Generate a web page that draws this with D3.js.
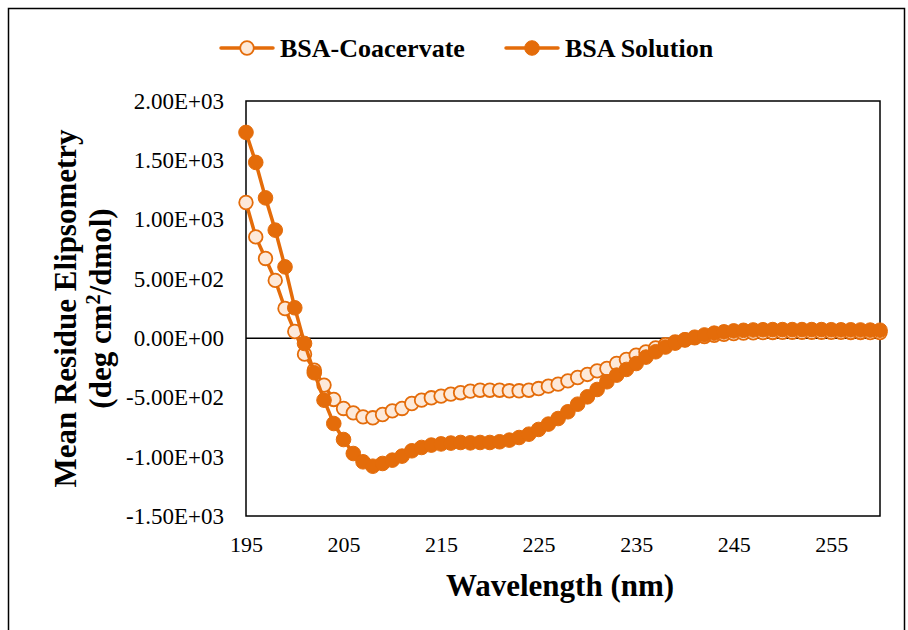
<!DOCTYPE html>
<html>
<head>
<meta charset="utf-8">
<script src="https://cdn.jsdelivr.net/npm/d3@7"></script>
<style>
  html, body { margin: 0; padding: 0; background: #fff; }
  svg { display: block; }
</style>
</head>
<body>
<svg id="chart" width="908" height="630"></svg>
<script>
// CD spectra of BSA: wavelength (nm) and mean residue ellipticity
const wavelengths = d3.range(195, 261); // 195 ... 260 nm, 1 nm steps

const coacervate = [
  1144, 854, 672, 487, 250, 56, -135, -270, -396, -517,
  -593, -630, -664, -672, -644, -613, -593, -551, -523, -503,
  -489, -472, -460, -447, -439, -439, -439, -444, -444, -439,
  -425, -405, -388, -360, -332, -306, -276, -256, -214, -180,
  -143, -116, -82, -55, -32, -14, 2, 14, 24, 32,
  38, 42, 45, 47, 48, 49, 50, 50, 50, 50,
  49, 49, 48, 48, 47, 47
];

const solution = [
  1735, 1482, 1183, 911, 601, 256, -45, -292, -523, -720,
  -855, -973, -1043, -1080, -1057, -1029, -995, -950, -922, -902,
  -892, -885, -880, -883, -880, -880, -874, -860, -838, -810,
  -770, -725, -678, -621, -557, -495, -433, -368, -312, -264,
  -214, -160, -115, -75, -42, -15, 8, 27, 42, 53,
  61, 66, 69, 71, 72, 72, 72, 72, 72, 72,
  71, 70, 70, 69, 68, 67
];

const seriesNames = ["BSA-Coacervate", "BSA Solution"];
const xTickValues = [195, 205, 215, 225, 235, 245, 255];
const yTickValues = [2000, 1500, 1000, 500, 0, -500, -1000, -1500];

const ORANGE = "#E46C0A";
const LIGHT = "#FDE9D9";
const SERIF = "'Liberation Serif', 'Times New Roman', Times, serif";

const svg = d3.select("#chart");

// outer frame
svg.append("rect")
  .attr("x", 8.5).attr("y", 8.5)
  .attr("width", 896).attr("height", 640)
  .attr("fill", "none").attr("stroke", "#000").attr("stroke-width", 1.5);

const plot = { left: 246, right: 880, top: 101, bottom: 516 };

const x = d3.scaleLinear().domain([195, 260]).range([plot.left, plot.right]);
const y = d3.scaleLinear().domain([-1500, 2000]).range([plot.bottom, plot.top]);

// plot area border
svg.append("rect")
  .attr("x", plot.left).attr("y", plot.top)
  .attr("width", plot.right - plot.left).attr("height", plot.bottom - plot.top)
  .attr("fill", "none").attr("stroke", "#000").attr("stroke-width", 1.5);

// y axis labels in scientific notation
const fmtE = v => {
  if (v === 0) return "0.00E+00";
  const s = (v < 0 ? "-" : "");
  const a = Math.abs(v);
  const e = Math.floor(Math.log10(a));
  const m = (a / Math.pow(10, e)).toFixed(2);
  return s + m + "E+" + String(e).padStart(2, "0");
};

const yAxis = d3.axisLeft(y).tickValues(yTickValues).tickSize(0).tickPadding(22).tickFormat(fmtE);
const gy = svg.append("g").attr("transform", `translate(${plot.left},0)`).call(yAxis);
gy.select(".domain").remove();
gy.selectAll("text")
  .attr("font-family", SERIF).attr("font-size", 23).attr("fill", "#000");

// x axis labels
const xAxis = d3.axisBottom(x).tickValues(xTickValues).tickSize(0).tickPadding(20).tickFormat(d3.format("d"));
const gx = svg.append("g").attr("transform", `translate(0,${plot.bottom})`).call(xAxis);
gx.select(".domain").remove();
gx.selectAll("text")
  .attr("font-family", SERIF).attr("font-size", 22).attr("fill", "#000");

// zero line
svg.append("line")
  .attr("x1", plot.left).attr("x2", plot.right)
  .attr("y1", y(0)).attr("y2", y(0))
  .attr("stroke", "#000").attr("stroke-width", 1.5);

// axis titles
svg.append("text")
  .attr("x", (plot.left + plot.right) / 2 - 3).attr("y", 596)
  .attr("text-anchor", "middle")
  .attr("font-family", SERIF).attr("font-weight", "bold").attr("font-size", 31)
  .text("Wavelength (nm)");

const yc = (plot.top + plot.bottom) / 2;
svg.append("text")
  .attr("transform", `translate(76,${yc}) rotate(-90)`)
  .attr("text-anchor", "middle")
  .attr("font-family", SERIF).attr("font-weight", "bold").attr("font-size", 31)
  .text("Mean Residue Elipsometry");

const t2 = svg.append("text")
  .attr("transform", `translate(111,${yc}) rotate(-90)`)
  .attr("text-anchor", "middle")
  .attr("font-family", SERIF).attr("font-weight", "bold").attr("font-size", 31);
t2.append("tspan").text("(deg cm");
t2.append("tspan").attr("dy", -11).attr("font-size", 20).text("2");
t2.append("tspan").attr("dy", 11).text("/dmol)");

// series: line with circle markers
const line = d3.line().x((d, i) => x(wavelengths[i])).y(d => y(d));

function drawSeries(values, fill, r, sw) {
  const g = svg.append("g");
  g.append("path")
    .datum(values)
    .attr("d", line)
    .attr("fill", "none").attr("stroke", ORANGE).attr("stroke-width", 3.5)
    .attr("stroke-linejoin", "round");
  g.selectAll("circle")
    .data(values)
    .join("circle")
    .attr("cx", (d, i) => x(wavelengths[i]))
    .attr("cy", d => y(d))
    .attr("r", r)
    .attr("fill", fill)
    .attr("stroke", ORANGE)
    .attr("stroke-width", sw);
}

drawSeries(coacervate, LIGHT, 6.8, 1.8);
drawSeries(solution, ORANGE, 7.3, 1);

// legend
const legend = [
  { name: seriesNames[0], x0: 221, fill: LIGHT, r: 6.8, sw: 1.8 },
  { name: seriesNames[1], x0: 506, fill: ORANGE, r: 7.3, sw: 1 }
];
const ly = 48;
legend.forEach(l => {
  svg.append("line")
    .attr("x1", l.x0).attr("x2", l.x0 + 52)
    .attr("y1", ly).attr("y2", ly)
    .attr("stroke", ORANGE).attr("stroke-width", 3.5).attr("stroke-linecap", "round");
  svg.append("circle")
    .attr("cx", l.x0 + 26).attr("cy", ly).attr("r", l.r)
    .attr("fill", l.fill).attr("stroke", ORANGE).attr("stroke-width", l.sw);
  svg.append("text")
    .attr("x", l.x0 + 59).attr("y", ly + 9)
    .attr("font-family", SERIF).attr("font-weight", "bold").attr("font-size", 26)
    .text(l.name);
});
</script>
</body>
</html>
